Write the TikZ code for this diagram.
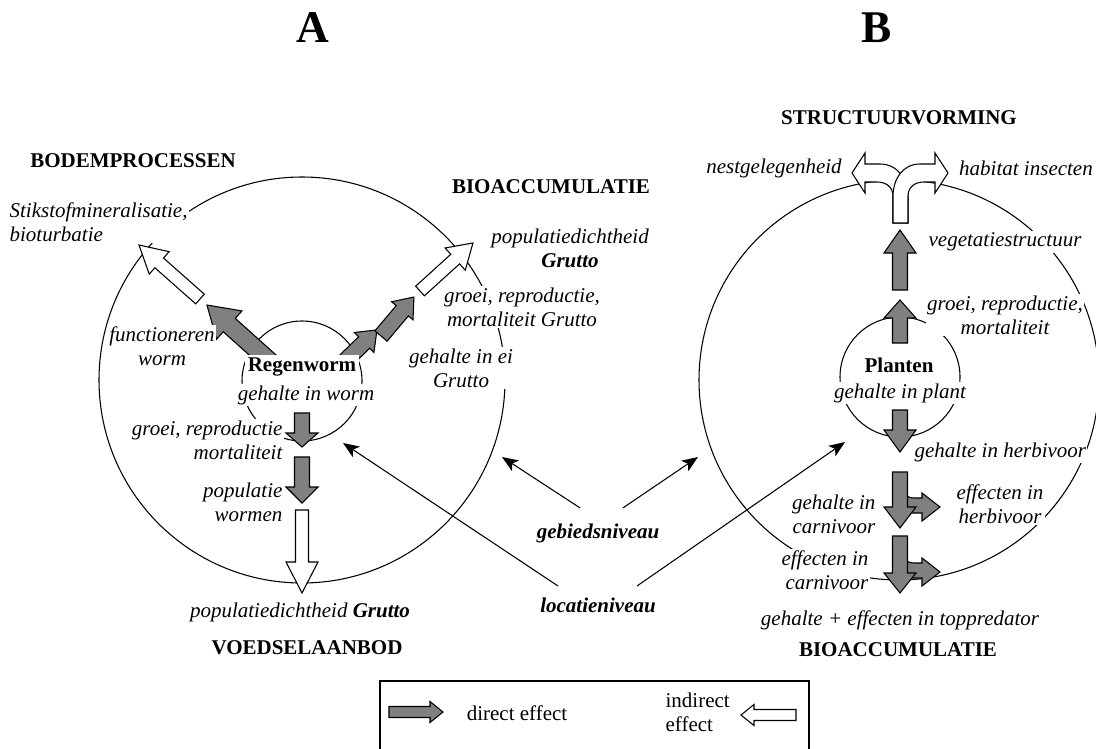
\documentclass[tikz,border=0pt]{standalone}
\usepackage{fontspec}
\setmainfont{Liberation Serif}
\usetikzlibrary{arrows.meta}
\definecolor{effgray}{HTML}{808080}

% block arrow: style, tail, angle, length, shaft half width, head half width, head length
\newcommand{\effarrow}[7]{%
  \begin{scope}[shift={#2},rotate=#3]
    \draw[#1] (0,-#5) -- ({#4-#7},-#5) -- ({#4-#7},-#6) -- (#4,0)
      -- ({#4-#7},#6) -- ({#4-#7},#5) -- (0,#5) -- cycle;
  \end{scope}}

\tikzset{
  lbl/.style={font=\fontsize{15.75}{18}\selectfont\itshape,fill=white,inner sep=1pt,align=center},
  niv/.style={lbl,font=\fontsize{15.75}{18}\selectfont\bfseries\itshape},
  caps/.style={font=\fontsize{15.75}{18}\selectfont\bfseries,inner sep=1pt},
  legtext/.style={font=\fontsize{15.75}{18}\selectfont,inner sep=1pt,align=left},
  panel/.style={font=\fontsize{34}{40}\selectfont\bfseries},
  ring/.style={draw,line width=0.8pt},
  direct/.style={draw,fill=effgray,line width=0.8pt,line join=miter},
  indirect/.style={draw,fill=white,line width=0.8pt,line join=miter},
  niveau/.style={-{Stealth[length=12pt,width=9.5pt,inset=3pt]},line width=0.8pt},
}

\begin{document}
\begin{tikzpicture}[x=0.75pt,y=-0.75pt]
  \useasboundingbox (0,0) rectangle (1096,749);

  % ---- Panel titles ------------------------------------------
  \node[panel] (titleA) at (313,28) {A};
  \node[panel] (titleB) at (877,28) {B};

  % ---- Rings -------------------------------------------------
  \draw[ring] (302,380) circle (203);
  \draw[ring] (302,381) circle (60);
  \draw[ring] (899,380) circle (200);
  \draw[ring] (900,377) circle (60);

  % ---- Regenworm effects (A) ---------------------------------
  \effarrow{direct}{(276,367)}{138.1}{92.8}{9}{19}{30}
  \effarrow{indirect}{(200,299)}{138.5}{81.5}{6.5}{15}{27}
  \effarrow{direct}{(338,368)}{44.3}{54.5}{8}{14}{18}
  \effarrow{direct}{(381,336)}{49.8}{51}{8}{14}{18}
  \effarrow{indirect}{(420,291)}{42.2}{71.5}{6.5}{15}{24}
  \effarrow{direct}{(302,413)}{-90}{34}{7.5}{16}{14}
  \effarrow{direct}{(302,457)}{-90}{46}{7.5}{16}{16}
  \effarrow{indirect}{(302,510)}{-90}{83}{6.5}{16}{31}

  % ---- Planten effects (B) -----------------------------------
  \effarrow{direct}{(900,343)}{90}{43}{7.5}{16}{18}
  \effarrow{direct}{(900,290)}{90}{60}{7.5}{16}{23}
  % split arrow to the top
  \draw[indirect] (893,223) -- (893,196) .. controls (893,187) and (886,182) .. (877,182)
    -- (865,182) -- (865,193) -- (852,173) -- (865,153) -- (865,164) -- (880,164)
    .. controls (898,164) and (908,180) .. (908,196) -- (908,223) -- cycle;
  \draw[indirect] (908,223) -- (908,196) .. controls (908,187) and (915,182) .. (924,182)
    -- (935,182) -- (935,193) -- (948,173) -- (935,153) -- (935,164) -- (920,164)
    .. controls (902,164) and (893,180) .. (893,196) -- (893,223) -- cycle;
  \effarrow{direct}{(900,410)}{-90}{42}{7.5}{16}{22}
  % side branches to the effects
  \draw[direct] (898,486) .. controls (905,496) and (908,498) .. (914,498) -- (922,498)
    -- (922,493) -- (940,507) -- (922,521) -- (922,513) -- (905,513) -- (898,518) -- cycle;
  \effarrow{direct}{(900,472)}{-90}{56}{7.5}{16}{21}
  \draw[direct] (898,551) .. controls (905,561) and (908,563) .. (914,563) -- (922,563)
    -- (922,558) -- (940,572) -- (922,586) -- (922,578) -- (905,578) -- (898,583) -- cycle;
  \effarrow{direct}{(900,536)}{-90}{57}{7.5}{16}{20}

  % ---- Labels (A) --------------------------------------------
  \node[caps] (bodem) at (133,161) {BODEMPROCESSEN};
  \node[lbl,align=left,anchor=west] (stikstof) at (8,222) {Stikstofmineralisatie,\\bioturbatie};
  \node[caps] (bioA) at (551,187) {BIOACCUMULATIE};
  \node[lbl] (popA) at (570,248) {populatiedichtheid\\\textbf{Grutto}};
  \node[lbl] (groeiG) at (522,307) {groei, reproductie,\\mortaliteit Grutto};
  \node[lbl] (eiG) at (461,368) {gehalte in ei\\Grutto};
  \node[lbl] (functA) at (162,346) {functioneren\\worm};
  \node[caps,fill=white,inner sep=2pt] (regen) at (302,367) {Regenworm};
  \node[lbl] (gehW) at (306,395) {gehalte in worm};
  \node[lbl,align=right,anchor=east] (groeiW) at (284,440) {groei, reproductie\\mortaliteit};
  \node[lbl,align=right,anchor=east] (popW) at (284,502) {populatie\\wormen};
  \node[lbl] (popGA) at (300,612) {populatiedichtheid \textbf{Grutto}};
  \node[caps] (voedsel) at (307,648) {VOEDSELAANBOD};

  % ---- Labels (B) --------------------------------------------
  \node[caps] (struct) at (899,118) {STRUCTUURVORMING};
  \node[lbl] (nest) at (774,168) {nestgelegenheid};
  \node[lbl] (habitat) at (1026,168) {habitat insecten};
  \node[lbl] (veget) at (1005,242) {vegetatiestructuur};
  \node[lbl] (groeiB) at (1005,315) {groei, reproductie,\\mortaliteit};
  \node[caps,fill=white,inner sep=2pt] (planten) at (899,365) {Planten};
  \node[lbl] (gehP) at (900,393) {gehalte in plant};
  \node[lbl,anchor=west] (gehH) at (913,452) {gehalte in herbivoor};
  \node[lbl,align=right,anchor=east] (gehC) at (877,514) {gehalte in\\carnivoor};
  \node[lbl] (effH) at (1000,504) {effecten in\\herbivoor};
  \node[lbl,align=right,anchor=east] (effC) at (870,570) {effecten in\\carnivoor};
  \node[lbl] (toppred) at (900,620) {gehalte + effecten in toppredator};
  \node[caps] (bioB) at (898,650) {BIOACCUMULATIE};

  % ---- Scale levels ------------------------------------------
  \node[niv] (gebied) at (598,533) {gebiedsniveau};
  \node[niv] (locatie) at (598,605) {locatieniveau};
  \coordinate (gebA) at (502,457);
  \coordinate (gebB) at (698,457);
  \coordinate (locA) at (343,443);
  \coordinate (locB) at (845,442);
  \draw[niveau] ([shift={(-18,-14)}]gebied.north) -- (gebA);
  \draw[niveau] ([shift={(25,-14)}]gebied.north) -- (gebB);
  \draw[niveau] ([shift={(-40,-10)}]locatie.north) -- (locA);
  \draw[niveau] ([shift={(39,-10)}]locatie.north) -- (locB);

  % ---- Legend ------------------------------------------------
  \draw[line width=0.8pt] (380,760) -- (380,681) -- (809,681) -- (809,760);
  \effarrow{direct}{(389,712)}{0}{54}{5.5}{10.5}{13}
  \node[legtext] (legdir) at (517,713) {direct effect};
  \node[legtext,anchor=west] (legind) at (664,712) {indirect\\effect};
  \effarrow{indirect}{(796,715)}{180}{55}{5.5}{10.5}{13}

\end{tikzpicture}
\end{document}
